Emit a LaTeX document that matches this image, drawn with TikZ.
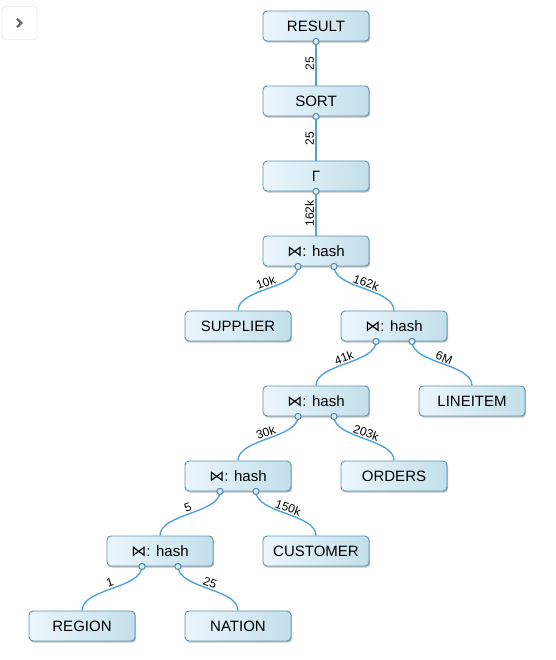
\documentclass[tikz,border=0pt]{standalone}
\usepackage{fontspec}
\setmainfont{Liberation Sans}
\newfontfamily\joinfont{DejaVu Sans}
\usetikzlibrary{calc,shadows}
\definecolor{boxedge}{HTML}{5E93AD}
\definecolor{boxleft}{HTML}{EBF6FC}
\definecolor{boxright}{HTML}{C3DFEA}
\definecolor{wire}{HTML}{4EA4D6}
\definecolor{portedge}{HTML}{4A8AB5}
\definecolor{portfill}{HTML}{DCEBF5}
\definecolor{chev}{HTML}{666666}
\newcommand{\joinsym}{{\joinfont ⋈}}
\begin{document}
\begin{tikzpicture}[x=1pt,y=1pt,
  opbox/.style={draw=boxedge, line width=0.9pt, rounded corners=4pt,
    left color=boxleft, right color=boxright,
    minimum width=106pt, minimum height=30pt, inner sep=0pt,
    font=\fontsize{15}{18}\selectfont,
    drop shadow={shadow xshift=1.2pt, shadow yshift=-1.6pt, opacity=0.25, fill=black}},
  wirestyle/.style={draw=wire, line width=1.4pt},
  count/.style={font=\fontsize{12}{14}\selectfont, inner sep=1.2pt},
  port/.style={draw=portedge, fill=portfill, line width=1pt}
]
\useasboundingbox (0,0) rectangle (555,-660);

% collapse toggle in the corner
\node (toggle) [draw=black!14, fill=white, rounded corners=3pt,
  minimum width=35pt, minimum height=33pt, inner sep=0pt] at (19.5,-23) {};
\draw[chev, line width=2.2pt] ($(toggle)+(-2.5,4.2)$) -- ($(toggle)+(1.8,0)$) -- ($(toggle)+(-2.5,-4.2)$);

% operator boxes
\node[opbox] (result)   at (316,-26)  {RESULT};
\node[opbox] (sort)     at (316,-101) {SORT};
\node[opbox] (gamma)    at (316,-176) {Γ};
\node[opbox] (j1)       at (316,-251) {\joinsym: hash};
\node[opbox] (supplier) at (238,-326) {SUPPLIER};
\node[opbox] (j2)       at (394,-326) {\joinsym: hash};
\node[opbox] (j3)       at (316,-401) {\joinsym: hash};
\node[opbox] (lineitem) at (472,-401) {LINEITEM};
\node[opbox] (j4)       at (238,-476) {\joinsym: hash};
\node[opbox] (orders)   at (394,-476) {ORDERS};
\node[opbox] (j5)       at (160,-551) {\joinsym: hash};
\node[opbox] (customer) at (316,-551) {CUSTOMER};
\node[opbox] (region)   at (82,-626)  {REGION};
\node[opbox] (nation)   at (238,-626) {NATION};

% output ports
\coordinate (resultp) at (result.south);
\coordinate (sortp)   at (sort.south);
\coordinate (gammap)  at (gamma.south);
\foreach \j in {j1,j2,j3,j4,j5}{
  \coordinate (\j l) at ($(\j.south)+(-18,0)$);
  \coordinate (\j r) at ($(\j.south)+(18,0)$);
}

% single-input links
\draw[wirestyle] (resultp) -- (sort.north)
  node[count, midway, rotate=90, anchor=south] {25};
\draw[wirestyle] (sortp) -- (gamma.north)
  node[count, midway, rotate=90, anchor=south] {25};
\draw[wirestyle] (gammap) -- (j1.north)
  node[count, midway, rotate=90, anchor=south] {162k};

% join inputs
\draw[wirestyle] (j1l) .. controls +(0,-22) and +(0,22) .. (supplier.north)
  node[count, midway, sloped, above] {10k};
\draw[wirestyle] (j1r) .. controls +(0,-22) and +(0,22) .. (j2.north)
  node[count, midway, sloped, above] {162k};
\draw[wirestyle] (j2l) .. controls +(0,-22) and +(0,22) .. (j3.north)
  node[count, midway, sloped, above] {41k};
\draw[wirestyle] (j2r) .. controls +(0,-22) and +(0,22) .. (lineitem.north)
  node[count, midway, sloped, above] {6M};
\draw[wirestyle] (j3l) .. controls +(0,-22) and +(0,22) .. (j4.north)
  node[count, midway, sloped, above] {30k};
\draw[wirestyle] (j3r) .. controls +(0,-22) and +(0,22) .. (orders.north)
  node[count, midway, sloped, above] {203k};
\draw[wirestyle] (j4l) .. controls +(0,-22) and +(0,22) .. (j5.north)
  node[count, midway, sloped, above] {5};
\draw[wirestyle] (j4r) .. controls +(0,-22) and +(0,22) .. (customer.north)
  node[count, midway, sloped, above] {150k};
\draw[wirestyle] (j5l) .. controls +(0,-22) and +(0,22) .. (region.north)
  node[count, midway, sloped, above] {1};
\draw[wirestyle] (j5r) .. controls +(0,-22) and +(0,22) .. (nation.north)
  node[count, midway, sloped, above] {25};

% port markers
\foreach \p in {resultp,sortp,gammap,j1l,j1r,j2l,j2r,j3l,j3r,j4l,j4r,j5l,j5r}
  \draw[port] (\p) circle (3.1pt);
\end{tikzpicture}
\end{document}
